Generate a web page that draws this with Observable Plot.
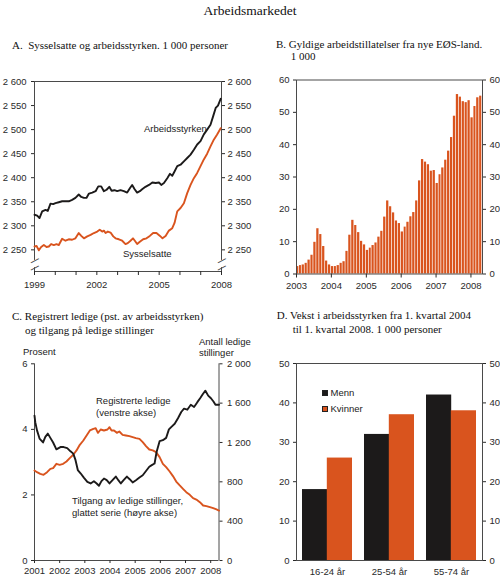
<!DOCTYPE html>
<html lang="no">
<head>
<meta charset="utf-8">
<script src="https://cdn.jsdelivr.net/npm/d3@7"></script>
<script src="https://cdn.jsdelivr.net/npm/@observablehq/plot@0.6"></script>
<style>
  html, body { margin: 0; padding: 0; background: #fff; }
  #page { position: relative; width: 500px; height: 580px; overflow: hidden; font-family: "Liberation Sans", Arial, sans-serif; color: #222; }
  .t { position: absolute; white-space: pre; line-height: 1; }
  .serif { font-family: "Liberation Serif", "Times New Roman", serif; color: #111; }
  .panel { position: absolute; }
  .sw { position: absolute; width: 6px; height: 6px; border: 0.6px solid #222; box-sizing: border-box; }
</style>
</head>
<body>
<div id="page"></div>
<script>
// ---------------- DATA ----------------
// Panel A: Sysselsatte og arbeidsstyrken (1 000 personer)
const arbYears = [1999.0,1999.13,1999.24,1999.37,1999.53,1999.64,1999.77,1999.9,2000.01,2000.17,2000.33,2000.49,2000.65,2000.81,2000.97,2001.13,2001.25,2001.38,2001.5,2001.62,2001.78,2001.94,2002.07,2002.21,2002.34,2002.47,2002.6,2002.71,2002.85,2002.98,2003.14,2003.3,2003.46,2003.59,2003.7,2003.82,2003.94,2004.07,2004.18,2004.34,2004.51,2004.67,2004.83,2004.99,2005.1,2005.23,2005.39,2005.52,2005.63,2005.74,2005.87,2006.03,2006.19,2006.35,2006.51,2006.67,2006.83,2006.99,2007.15,2007.31,2007.47,2007.6,2007.72,2007.83,2007.96];
const arbValues = [2323,2321,2316,2330,2333,2331,2346,2345,2347,2349,2351,2351,2351,2354,2358,2365,2360,2358,2358,2367,2369,2372,2382,2382,2372,2375,2381,2373,2374,2372,2374,2372,2369,2378,2385,2376,2369,2372,2376,2381,2385,2390,2389,2390,2385,2389,2399,2408,2404,2413,2424,2427,2434,2441,2448,2458,2469,2476,2490,2500,2510,2528,2545,2550,2564];
const sysYears = [1999.0,1999.1,1999.21,1999.32,1999.45,1999.58,1999.69,1999.8,1999.93,2000.06,2000.17,2000.33,2000.49,2000.65,2000.81,2000.97,2001.13,2001.25,2001.38,2001.54,2001.7,2001.86,2002.02,2002.14,2002.26,2002.34,2002.42,2002.53,2002.66,2002.79,2002.9,2003.06,2003.22,2003.38,2003.49,2003.62,2003.74,2003.83,2003.94,2004.07,2004.23,2004.39,2004.55,2004.71,2004.87,2005.04,2005.16,2005.31,2005.47,2005.63,2005.74,2005.87,2006.03,2006.19,2006.35,2006.51,2006.67,2006.83,2006.99,2007.15,2007.31,2007.47,2007.63,2007.79,2007.96];
const sysValues = [2257,2258,2249,2256,2260,2256,2257,2262,2260,2262,2260,2273,2269,2272,2271,2274,2285,2279,2274,2278,2281,2285,2288,2292,2288,2290,2285,2288,2286,2278,2274,2272,2269,2262,2264,2269,2274,2269,2262,2267,2272,2274,2279,2285,2285,2279,2274,2279,2290,2295,2306,2330,2337,2347,2368,2385,2399,2410,2424,2438,2450,2465,2479,2490,2503];
const aXDomain = [1999, 2008];
const aYDomain = [2205, 2600];
const aYTicks = [2250, 2300, 2350, 2400, 2450, 2500, 2550, 2600];
const aXTicks = [1999, 2000, 2001, 2002, 2003, 2004, 2005, 2006, 2007, 2008];
const aXLabels = [1999, 2002, 2005, 2008];
const aAxisBreak = [2213, 2228];

// Panel B: Gyldige arbeidstillatelser fra nye EØS-land (1 000), monthly from Jan 2003
const bStartYear = 2003;
const bValues = [
  2.3, 2.6, 2.8, 3.3, 4.3, 5.8, 9.8, 14.0, 12.2, 8.5, 4.0, 2.8,
  2.3, 2.3, 2.6, 3.3, 3.8, 7.0, 12.0, 16.6, 15.0, 12.8, 10.1, 9.0,
  7.3, 8.0, 8.8, 9.6, 11.4, 13.2, 17.6, 22.6, 20.8, 18.9, 16.4, 15.6,
  13.0, 14.5, 16.0, 17.7, 19.0, 22.6, 28.8, 35.4, 34.6, 33.8, 31.8, 32.0,
  28.0, 30.7, 32.8, 35.2, 38.0, 42.2, 48.8, 55.5, 54.7, 53.3, 53.0, 53.6,
  48.3, 51.8, 54.5, 55.0
];
const bYDomain = [0, 60];
const bYTicks = [0, 10, 20, 30, 40, 50, 60];
const bYearTicks = [2003, 2004, 2005, 2006, 2007, 2008];

// Panel C: Registrerte ledige (pst.) and tilgang på ledige stillinger
const regYears = [2001.0,2001.03,2001.1,2001.2,2001.34,2001.43,2001.53,2001.63,2001.74,2001.87,2002.03,2002.16,2002.3,2002.43,2002.54,2002.63,2002.72,2002.83,2002.96,2003.1,2003.23,2003.36,2003.47,2003.56,2003.66,2003.76,2003.87,2003.98,2004.1,2004.23,2004.33,2004.43,2004.54,2004.67,2004.78,2004.9,2005.03,2005.17,2005.3,2005.43,2005.56,2005.66,2005.77,2005.85,2005.97,2006.1,2006.23,2006.34,2006.43,2006.57,2006.7,2006.83,2006.94,2007.07,2007.21,2007.34,2007.47,2007.58,2007.69,2007.79,2007.9,2008.01,2008.11,2008.19,2008.33];
const regValues = [4.42,4.22,3.97,3.72,3.6,3.77,3.87,3.74,3.6,3.39,3.46,3.46,3.43,3.33,3.26,3.06,2.76,2.66,2.53,2.4,2.35,2.42,2.35,2.28,2.42,2.5,2.45,2.35,2.45,2.56,2.45,2.35,2.45,2.56,2.48,2.38,2.45,2.53,2.6,2.73,2.86,2.91,2.96,3.31,3.64,3.67,3.74,4.0,4.07,4.17,4.34,4.53,4.63,4.6,4.75,4.68,4.83,4.95,5.08,5.18,5.03,4.95,4.85,4.75,4.75];
const tilYears = [2001.0,2001.1,2001.23,2001.36,2001.5,2001.63,2001.74,2001.87,2002.0,2002.14,2002.27,2002.4,2002.54,2002.67,2002.8,2002.94,2003.07,2003.2,2003.34,2003.43,2003.52,2003.63,2003.76,2003.9,2003.98,2004.06,2004.16,2004.27,2004.37,2004.5,2004.63,2004.77,2004.9,2005.03,2005.17,2005.3,2005.43,2005.56,2005.7,2005.83,2005.97,2006.1,2006.23,2006.37,2006.5,2006.63,2006.77,2006.9,2007.03,2007.17,2007.3,2007.43,2007.57,2007.7,2007.83,2007.97,2008.1,2008.23,2008.33];
const tilValues = [915,898,881,871,898,932,939,983,973,983,1007,1041,1075,1119,1176,1220,1271,1322,1339,1346,1298,1332,1322,1332,1356,1322,1322,1298,1312,1278,1271,1264,1254,1244,1237,1203,1163,1129,1119,1102,1051,983,949,905,858,803,763,729,695,668,634,620,593,559,553,542,532,519,508];
const cXDomain = [2001, 2008.33];
const cLeftDomain = [0, 6];
const cRightMax = 2000;
const cLeftTicks = [0, 2, 4, 6];
const cRightTicks = [0, 400, 800, 1200, 1600, 2000];
const cYearTicks = [2001, 2002, 2003, 2004, 2005, 2006, 2007, 2008];

// Panel D: Vekst i arbeidsstyrken 1. kv. 2004 – 1. kv. 2008 (1 000 personer)
const dGroups = ["16-24 år", "25-54 år", "55-74 år"];
const dMenn = [18, 32, 42];
const dKvinner = [26, 37, 38];
const dYDomain = [0, 50];
const dYTicks = [0, 10, 20, 30, 40, 50];

// ---------------- STYLE ----------------
const BLACK = "#1c1a1a";
const ORANGE = "#d9541e";
const AXIS = "#4a4a4a";
const FONT = "Liberation Sans, Arial, sans-serif";
const plotStyle = {fontFamily: FONT, fontSize: "9.5px", color: "#2a2a2a", background: "transparent", overflow: "visible"};
const spaceFmt = d => d3.format(",")(d).replace(/,/g, " ");
const intFmt = d => String(d);

const page = document.getElementById("page");
function label(text, x, cy, fs, cls, extra) {
  const el = document.createElement("div");
  el.className = "t " + (cls || "");
  el.textContent = text;
  el.style.left = x + "px";
  el.style.top = (cy - fs / 2) + "px";
  el.style.fontSize = fs + "px";
  if (extra) Object.assign(el.style, extra);
  page.appendChild(el);
  return el;
}
function place(svg, left, top) {
  const wrap = document.createElement("div");
  wrap.className = "panel";
  wrap.style.left = left + "px";
  wrap.style.top = top + "px";
  wrap.appendChild(svg);
  page.appendChild(wrap);
}

// ---------------- PANEL A ----------------
const arb = d3.zip(arbYears, arbValues).map(([t, v]) => ({t, v}));
const sys = d3.zip(sysYears, sysValues).map(([t, v]) => ({t, v}));
const plotA = Plot.plot({
  width: 250, height: 226,
  marginLeft: 34, marginRight: 29, marginTop: 11, marginBottom: 25,
  style: plotStyle,
  x: {domain: aXDomain, label: null},
  y: {domain: aYDomain, label: null},
  marks: [
    Plot.ruleY(aYDomain, {stroke: AXIS, strokeWidth: 1}),
    Plot.ruleX(aXDomain, {y1: aYDomain[1], y2: aAxisBreak[1], stroke: AXIS, strokeWidth: 1}),
    Plot.ruleX(aXDomain, {y1: aAxisBreak[0], y2: aYDomain[0], stroke: AXIS, strokeWidth: 1}),
    Plot.text(d3.cross(aXDomain, aAxisBreak), {x: d => d[0], y: d => d[1], text: () => "\u2014", rotate: -28, fontSize: 9, fill: AXIS, fontWeight: "bold"}),
    Plot.axisY({anchor: "left", ticks: aYTicks, tickFormat: spaceFmt, tickSize: 3, tickPadding: 5, label: null}),
    Plot.axisY({anchor: "right", ticks: aYTicks, tickFormat: spaceFmt, tickSize: 3, tickPadding: 3, label: null}),
    Plot.axisX({ticks: aXTicks, tickFormat: d => aXLabels.includes(d) ? String(d) : "", tickSize: 4, tickPadding: 6, label: null}),
    Plot.line(arb, {x: "t", y: "v", stroke: BLACK, strokeWidth: 1.9}),
    Plot.line(sys, {x: "t", y: "v", stroke: ORANGE, strokeWidth: 1.9})
  ]
});
place(plotA, 0, 70);

// ---------------- PANEL B ----------------
const bData = bValues.map((v, i) => ({start: new Date(Date.UTC(bStartYear, i, 1)), end: new Date(Date.UTC(bStartYear, i + 1, 1)), v}));
const plotB = Plot.plot({
  width: 250, height: 226,
  marginLeft: 46, marginRight: 18, marginTop: 9.5, marginBottom: 22.5,
  style: plotStyle,
  x: {type: "utc", domain: [bData[0].start, bData[bData.length - 1].end], label: null},
  y: {domain: bYDomain, label: null},
  marks: [
    Plot.rectY(bData, {x1: "start", x2: "end", y: "v", fill: ORANGE, insetRight: 0.7}),
    Plot.frame({stroke: AXIS, strokeWidth: 1}),
    Plot.axisY({anchor: "left", ticks: bYTicks, tickFormat: intFmt, tickSize: 3, tickPadding: 4, label: null}),
    Plot.axisY({anchor: "right", ticks: bYTicks, tickFormat: intFmt, tickSize: 3, tickPadding: 4, label: null}),
    Plot.axisX({ticks: bYearTicks.map(y => new Date(Date.UTC(y, 0, 1))), tickFormat: d => String(d.getUTCFullYear()), tickSize: 4, tickPadding: 4, label: null})
  ]
});
place(plotB, 250, 70);

// ---------------- PANEL C ----------------
const reg = d3.zip(regYears, regValues).map(([t, v]) => ({t, v}));
const til = d3.zip(tilYears, tilValues).map(([t, v]) => ({t, v}));
const toLeft = v => v / cRightMax * cLeftDomain[1];
const plotC = Plot.plot({
  width: 250, height: 240,
  marginLeft: 34, marginRight: 31.5, marginTop: 23.3, marginBottom: 20,
  style: plotStyle,
  x: {domain: cXDomain, label: null},
  y: {domain: cLeftDomain, label: null},
  marks: [
    Plot.ruleX(cXDomain, {stroke: AXIS, strokeWidth: 1}),
    Plot.ruleY([cLeftDomain[0]], {stroke: AXIS, strokeWidth: 1}),
    Plot.axisY({anchor: "left", ticks: cLeftTicks, tickFormat: intFmt, tickSize: 3, tickPadding: 4, label: null}),
    Plot.axisY({anchor: "right", ticks: cRightTicks.map(toLeft), tickFormat: d => spaceFmt(Math.round(d / cLeftDomain[1] * cRightMax)), tickSize: 3, tickPadding: 5, label: null}),
    Plot.axisX({ticks: cYearTicks, tickFormat: intFmt, tickSize: 3, tickPadding: 4, label: null}),
    Plot.line(til, {x: "t", y: d => toLeft(d.v), stroke: ORANGE, strokeWidth: 1.9}),
    Plot.line(reg, {x: "t", y: "v", stroke: BLACK, strokeWidth: 1.9})
  ]
});
place(plotC, 0, 340);

// ---------------- PANEL D ----------------
const dW = 250, dML = 46, dMR = 18, dPadInner = 0.2, dPadOuter = 0.1;
const dHalf = (dW - dML - dMR) / (dGroups.length - dPadInner + 2 * dPadOuter) * (1 - dPadInner) / 2;
const plotD = Plot.plot({
  width: dW, height: 240,
  marginLeft: dML, marginRight: dMR, marginTop: 23, marginBottom: 20,
  style: plotStyle,
  x: {type: "band", domain: dGroups, paddingInner: dPadInner, paddingOuter: dPadOuter, label: null},
  y: {domain: dYDomain, label: null},
  marks: [
    Plot.barY(dGroups, {x: d => d, y: (d, i) => dMenn[i], fill: BLACK, insetRight: dHalf}),
    Plot.barY(dGroups, {x: d => d, y: (d, i) => dKvinner[i], fill: ORANGE, insetLeft: dHalf}),
    Plot.frame({stroke: AXIS, strokeWidth: 1}),
    Plot.axisY({anchor: "left", ticks: dYTicks, tickFormat: intFmt, tickSize: 3, tickPadding: 4, label: null}),
    Plot.axisY({anchor: "right", ticks: dYTicks, tickFormat: intFmt, tickSize: 3, tickPadding: 4, label: null}),
    Plot.axisX({tickSize: 0, tickPadding: 8, label: null})
  ]
});
place(plotD, 250, 340);

// ---------------- TEXT ----------------
label("Arbeidsmarkedet", 0, 11, 13.5, "serif", {width: "500px", textAlign: "center"});

label("A.  Sysselsatte og arbeidsstyrken. 1 000 personer", 12, 45, 11, "serif");
label("B. Gyldige arbeidstillatelser fra nye EØS-land.", 276, 44.3, 11, "serif");
label("1 000", 290.7, 56.5, 11, "serif");
label("C. Registrert ledige (pst. av arbeidsstyrken)", 12, 316.7, 11, "serif");
label("og tilgang på ledige stillinger", 25, 330, 11, "serif");
label("D. Vekst i arbeidsstyrken fra 1. kvartal 2004", 276.7, 315.5, 11, "serif");
label("til 1. kvartal 2008. 1 000 personer", 292.7, 329.5, 11, "serif");

label("Arbeidsstyrken", 144, 129, 9.5);
label("Sysselsatte", 123, 254, 9.5);

label("Prosent", 23, 351.7, 9.5);
label("Antall ledige", 199, 341.7, 9.5);
label("stillinger", 199, 352.5, 9.5);
label("Registrerte ledige", 96, 401, 9.5);
label("(venstre akse)", 96, 412.5, 9.5);
label("Tilgang av ledige stillinger,", 72, 501, 9.5);
label("glattet serie (høyre akse)", 72, 512.5, 9.5);

// legend D
function swatch(x, y, color) {
  const s = document.createElement("div");
  s.className = "sw";
  s.style.left = x + "px"; s.style.top = y + "px"; s.style.background = color;
  page.appendChild(s);
}
swatch(322, 389.5, BLACK);
swatch(322, 405.5, ORANGE);
label("Menn", 330.5, 392.7, 9.5);
label("Kvinner", 330.5, 408.7, 9.5);
</script>
</body>
</html>
